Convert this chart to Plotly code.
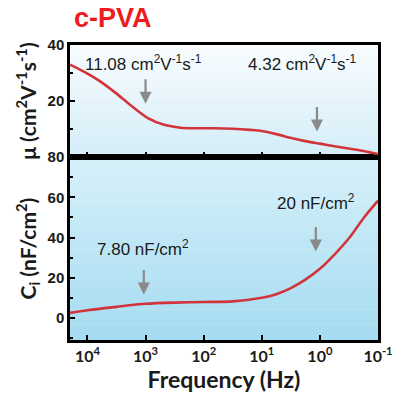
import plotly.graph_objects as go

# ---- data ----
mu_logf = [4.3, 4.0, 3.8, 3.52, 3.24, 2.96, 2.68, 2.4, 2.1, 1.84, 1.5, 1.2, 1.0, 0.75, 0.49, 0.25, 0.0, -0.25, -0.52, -0.75, -1.0]
mu_vals = [33.0, 29.8, 27.3, 23.0, 18.2, 13.9, 11.5, 10.5, 10.3, 10.3, 10.1, 9.7, 9.3, 8.2, 6.8, 5.7, 4.8, 3.9, 3.0, 2.2, 1.1]
ci_logf = [4.3, 4.0, 3.5, 3.0, 2.5, 2.0, 1.5, 1.0, 0.75, 0.5, 0.25, 0.0, -0.25, -0.5, -0.75, -1.0]
ci_vals = [2.5, 3.8, 5.5, 7.0, 7.6, 7.9, 8.2, 10.0, 11.8, 14.8, 19.0, 24.4, 31.5, 39.6, 49.6, 58.3]
mu_freq = [10 ** v for v in mu_logf]
ci_freq = [10 ** v for v in ci_logf]

x_tickvals = [1e4, 1e3, 1e2, 1e1, 1e0, 1e-1]
x_ticktext = ["10<sup>4</sup>", "10<sup>3</sup>", "10<sup>2</sup>", "10<sup>1</sup>", "10<sup>0</sup>", "10<sup>-1</sup>"]
mu_ticks = [20, 40]
ci_ticks = [0, 20, 40, 60, 80]

# annotation positions: (text, log10 frequency, value)
mu_labels = [("11.08 cm<sup>2</sup>V<sup>-1</sup>s<sup>-1</sup>", 3.04, 33.5),
             ("4.32 cm<sup>2</sup>V<sup>-1</sup>s<sup>-1</sup>", 0.30, 33.5)]
mu_arrows = [(3.0, 19.0), (0.05, 9.1)]
ci_labels = [("7.80 nF/cm<sup>2</sup>", 3.04, 35.0),
             ("20 nF/cm<sup>2</sup>", 0.07, 57.7)]
ci_arrows = [(3.03, 11.6), (0.07, 33.0)]

RED = "#d2343c"
TXT = "#1a1a1a"
TICKFONT = dict(family="Liberation Sans, Arial", size=15, color=TXT)
TITLEFONT = dict(family="Lato, Liberation Sans", size=21, color=TXT)
ANNFONT = dict(family="Liberation Sans, Arial", size=17, color=TXT)

fig = go.Figure()
fig.add_trace(go.Scatter(x=mu_freq, y=mu_vals, mode="lines",
                         line=dict(color=RED, width=2.6, shape="spline", smoothing=0.8),
                         xaxis="x2", yaxis="y2", showlegend=False))
fig.add_trace(go.Scatter(x=ci_freq, y=ci_vals, mode="lines",
                         line=dict(color=RED, width=2.6, shape="spline", smoothing=0.8),
                         xaxis="x", yaxis="y", showlegend=False))

# gradient backgrounds
def lerp(c1, c2, t):
    return "rgb(%d,%d,%d)" % tuple(round(a + (b - a) * t) for a, b in zip(c1, c2))

shapes = []
N = 24
for yref, top_c, bot_c in [("y2 domain", (248, 252, 254), (212, 237, 248)),
                           ("y domain", (214, 240, 250), (166, 220, 241))]:
    xref = "x2 domain" if yref.startswith("y2") else "x domain"
    for i in range(N):
        t = i / (N - 1)
        shapes.append(dict(type="rect", xref=xref, yref=yref, x0=0, x1=1,
                           y0=1 - (i + 1) / N, y1=1 - i / N + 0.002,
                           fillcolor=lerp(top_c, bot_c, t), line=dict(width=0), layer="below"))

annotations = []
for txt, x, y in mu_labels:
    annotations.append(dict(text=txt, x=x, y=y, xref="x2", yref="y2", showarrow=False, font=ANNFONT))
for txt, x, y in ci_labels:
    annotations.append(dict(text=txt, x=x, y=y, xref="x", yref="y", showarrow=False, font=ANNFONT))
for (x, y), (xr, yr) in [(a, ("x2", "y2")) for a in mu_arrows] + [(a, ("x", "y")) for a in ci_arrows]:
    annotations.append(dict(text="", x=x, y=y, xref=xr, yref=yr, showarrow=True, ax=0, ay=-26,
                            arrowhead=2, arrowsize=1.1, arrowwidth=2.2, arrowcolor="#8a8a8a"))
annotations.append(dict(text="<b>c-PVA</b>", x=(72 - 70) / 317, y=(340 - 35) / 295,
                        xref="paper", yref="paper", showarrow=False,
                        xanchor="left", yanchor="bottom",
                        font=dict(family="Liberation Sans, Arial", size=27, color="#ee1c1c")))

xcommon = dict(type="log", range=[4.3, -1.0], tickvals=x_tickvals, ticks="inside", ticklen=5,
               tickwidth=2, tickcolor="black", showline=True, linewidth=2.5, linecolor="black",
               mirror=True, showgrid=False, zeroline=False)
ycommon = dict(ticks="inside", ticklen=5, tickwidth=2, tickcolor="black", showline=True, linewidth=2.5,
               linecolor="black", mirror=True, showgrid=False, zeroline=False, tickfont=TICKFONT,
               minor=dict(ticks="inside", ticklen=3, tickwidth=1.5, tickcolor="black", dtick=10))

fig.update_layout(
    width=405, height=397, margin=dict(l=70, r=18, t=45, b=57),
    paper_bgcolor="white", plot_bgcolor="rgba(0,0,0,0)",
    xaxis=dict(xcommon, anchor="y", ticktext=["<b>%s</b>" % t for t in x_ticktext],
               tickfont=dict(TICKFONT, family="Lato, Liberation Sans", size=16),
               title=dict(text="<b>Frequency (Hz)</b>", font=dict(TITLEFONT, size=23), standoff=2)),
    xaxis2=dict(xcommon, anchor="y2", showticklabels=False, matches="x"),
    yaxis=dict(ycommon, domain=[0, 0.62], range=[-11, 80], tickvals=ci_ticks,
               ticktext=["<b>%d</b>" % v for v in ci_ticks],
               title=dict(text="<b>C<sub>i</sub> (nF/cm<sup>2</sup>)</b>", font=TITLEFONT, standoff=6)),
    yaxis2=dict(ycommon, domain=[0.62, 1], range=[0, 40], tickvals=mu_ticks,
                ticktext=["<b>%d</b>" % v for v in mu_ticks],
                title=dict(text="<b>μ (cm<sup>2</sup>V<sup>-1</sup>s<sup>-1</sup>)</b>", font=TITLEFONT, standoff=6)),
    shapes=shapes, annotations=annotations,
)

fig.write_html("out.html")
